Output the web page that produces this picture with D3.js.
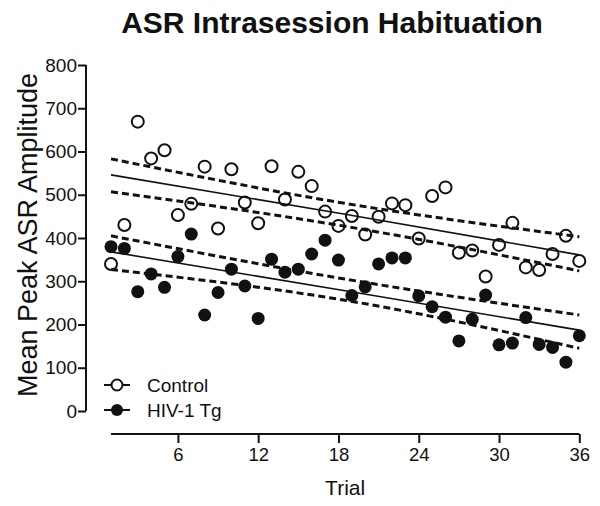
<!DOCTYPE html>
<html>
<head>
<meta charset="utf-8">
<script src="https://cdn.jsdelivr.net/npm/d3@7"></script>
<style>
  html, body { margin: 0; padding: 0; background: #fff; }
  svg { display: block; font-family: "Liberation Sans", Arial, Helvetica, sans-serif; }
</style>
</head>
<body>
<svg id="chart" width="600" height="506"></svg>
<script>
// ---- data ----
const trials = d3.range(1, 37);
const controlValues = [340, 430, 669, 584, 603, 453, 479, 565, 422, 559, 482, 434,
  566, 489, 553, 520, 461, 428, 451, 408, 449, 480, 476, 399,
  497, 517, 366, 371, 311, 384, 435, 332, 326, 363, 405, 347];
const hivValues = [380, 376, 276, 317, 286, 357, 409, 222, 274, 328, 289, 214,
  351, 321, 328, 363, 395, 349, 267, 287, 340, 354, 354, 266,
  241, 217, 162, 212, 268, 153, 157, 216, 154, 147, 113, 174];
// regression lines and 95% bands, read at trials 1, 18.5, 36
const bandTrials = [1, 18.5, 36];
const controlFit = [546, 455, 361];
const controlUpper = [583, 480, 403];
const controlLower = [507, 427, 324];
const hivFit = [368, 278, 187];
const hivUpper = [405, 305, 222];
const hivLower = [327, 256, 145];
const xTicks = [6, 12, 18, 24, 30, 36];
const yTicks = [0, 100, 200, 300, 400, 500, 600, 700, 800];
const seriesNames = ["Control", "HIV-1 Tg"];

// ---- drawing ----
const svg = d3.select("#chart");
const x = d3.scaleLinear().domain([1, 36]).range([111, 579.3]);
const y = d3.scaleLinear().domain([0, 800]).range([411, 65]);

svg.append("text")
  .attr("x", 332).attr("y", 33)
  .attr("text-anchor", "middle")
  .attr("font-size", 30).attr("font-weight", "bold")
  .attr("fill", "#111")
  .text("ASR Intrasession Habituation");

// y axis
const yAxis = svg.append("g")
  .attr("transform", "translate(86,0)")
  .call(d3.axisLeft(y).tickValues(yTicks).tickSize(8).tickPadding(1));
yAxis.select(".domain").attr("stroke", "#111").attr("stroke-width", 2).attr("d", `M0,${y(0)}V${y(800)}`);
yAxis.selectAll(".tick line").attr("stroke", "#111").attr("stroke-width", 2);
yAxis.selectAll(".tick text").attr("font-size", 19).attr("fill", "#111").attr("font-family", "Liberation Sans, Arial, sans-serif");

// x axis
const xAxis = svg.append("g")
  .attr("transform", "translate(0,434)")
  .call(d3.axisBottom(x).tickValues(xTicks).tickSize(9).tickPadding(5));
xAxis.select(".domain").attr("stroke", "#111").attr("stroke-width", 2).attr("d", `M${x(1)},0H${x(36)}`);
xAxis.selectAll(".tick line").attr("stroke", "#111").attr("stroke-width", 2);
xAxis.selectAll(".tick text").attr("font-size", 18.5).attr("fill", "#111").attr("font-family", "Liberation Sans, Arial, sans-serif");

svg.append("text")
  .attr("x", x(18.5)).attr("y", 495)
  .attr("text-anchor", "middle")
  .attr("font-size", 21).attr("fill", "#111")
  .text("Trial");

svg.append("text")
  .attr("transform", "translate(37,235) rotate(-90)")
  .attr("text-anchor", "middle")
  .attr("font-size", 27).attr("fill", "#111")
  .text("Mean Peak ASR Amplitude");

// fit lines and bands
const lineGen = d3.line().x(d => x(d[0])).y(d => y(d[1])).curve(d3.curveNatural);
function drawLine(vals, dashed) {
  svg.append("path")
    .datum(bandTrials.map((t, i) => [t, vals[i]]))
    .attr("d", lineGen)
    .attr("fill", "none")
    .attr("stroke", "#111")
    .attr("stroke-width", dashed ? 3 : 1.6)
    .attr("stroke-dasharray", dashed ? "7,4" : null);
}
drawLine(controlFit, false);
drawLine(controlUpper, true);
drawLine(controlLower, true);
drawLine(hivFit, false);
drawLine(hivUpper, true);
drawLine(hivLower, true);

// points
svg.append("g").selectAll("circle")
  .data(trials.map((t, i) => [t, hivValues[i]]))
  .join("circle")
  .attr("cx", d => x(d[0])).attr("cy", d => y(d[1]))
  .attr("r", 6.5).attr("fill", "#111");
svg.append("g").selectAll("circle")
  .data(trials.map((t, i) => [t, controlValues[i]]))
  .join("circle")
  .attr("cx", d => x(d[0])).attr("cy", d => y(d[1]))
  .attr("r", 6).attr("fill", "#fff").attr("fill-opacity", 0)
  .attr("stroke", "#111").attr("stroke-width", 2);

// legend
const legend = svg.append("g");
seriesNames.forEach((name, i) => {
  const ly = 385 + i * 25;
  legend.append("line").attr("x1", 104).attr("x2", 130).attr("y1", ly).attr("y2", ly)
    .attr("stroke", "#111").attr("stroke-width", 2);
  legend.append("circle").attr("cx", 117).attr("cy", ly).attr("r", i === 0 ? 5.5 : 6)
    .attr("fill", i === 0 ? "#fff" : "#111")
    .attr("stroke", "#111").attr("stroke-width", i === 0 ? 2 : 0);
  legend.append("text").attr("x", 147).attr("y", ly + 7)
    .attr("font-size", 19).attr("fill", "#111")
    .text(name);
});
</script>
</body>
</html>
